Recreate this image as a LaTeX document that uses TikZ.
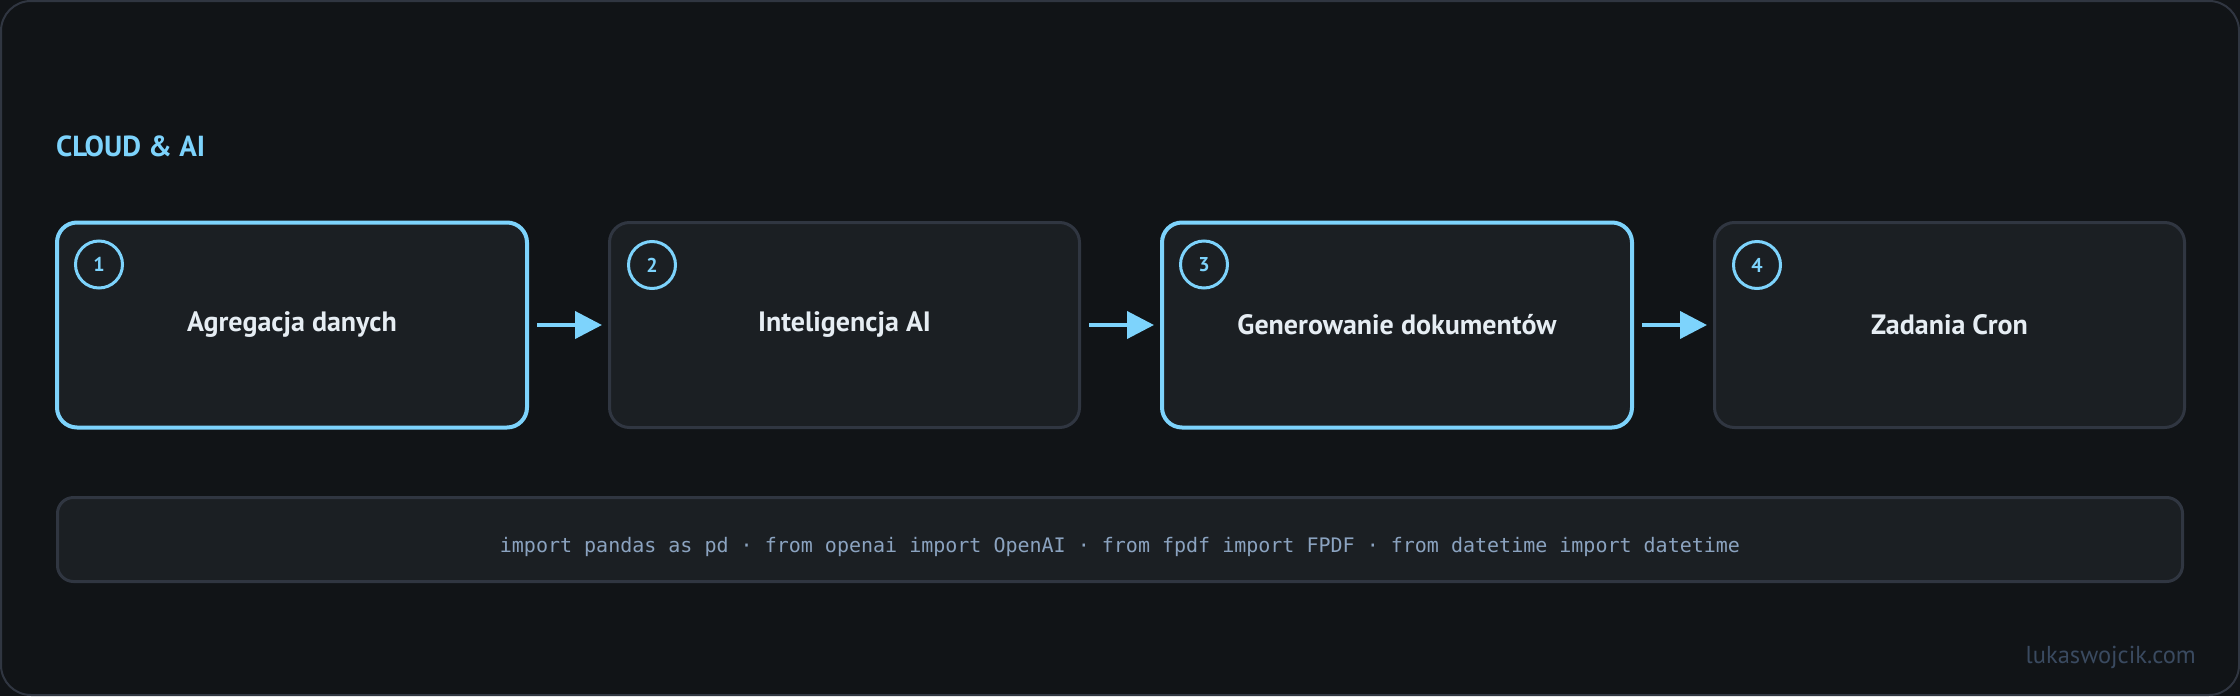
\documentclass[tikz,border=0pt]{standalone}
\usepackage{fontspec}
\setmainfont{PT Sans}
\setmonofont{DejaVu Sans Mono}
\usepackage{tikz}
\usetikzlibrary{positioning,calc,arrows.meta}
\definecolor{pagebg}{HTML}{111417}
\definecolor{boxfill}{HTML}{1B1F23}
\definecolor{edgegray}{HTML}{303641}
\definecolor{skyline}{HTML}{7DD3FC}
\definecolor{labeltext}{HTML}{E6EDF3}
\definecolor{codetext}{HTML}{8BA3C0}
\definecolor{sitetext}{HTML}{3A4A60}
\tikzstyle{stepbox} = [rectangle, draw=edgegray, fill=boxfill, line width=3pt,
    rounded corners=20pt, minimum width=470pt, minimum height=205pt,
    inner sep=0pt, text=labeltext, font=\fontsize{28}{33}\selectfont\bfseries]
\tikzstyle{activebox} = [stepbox, draw=skyline, line width=4pt]
\tikzstyle{numcircle} = [circle, draw=skyline, line width=3pt, minimum size=47pt,
    inner sep=0pt, text=skyline, font=\fontsize{20}{24}\selectfont\bfseries]
\tikzstyle{flowarrow} = [draw=skyline, line width=4pt,
    -{Triangle[length=27pt,width=27pt]}, shorten <=8pt, shorten >=6pt]

\begin{document}
\begin{tikzpicture}[x=1pt,y=-1pt]
    \fill[pagebg] (0,0) rectangle (2240,696);
    \draw[edgegray, line width=2pt, rounded corners=30pt] (1,1) rectangle (2239,695);
    \useasboundingbox (0,0) rectangle (2240,696);

    \node[anchor=base west, inner sep=0pt, text=skyline,
      font=\fontsize{29}{34}\selectfont\bfseries] (title) at (56,156) {CLOUD \& AI};

    \node[activebox] (s1) at (292,325) {Agregacja danych};
    \node[stepbox, right=79pt of s1] (s2) {Inteligencja AI};
    \node[activebox, right=79pt of s2] (s3) {Generowanie dokumentów};
    \node[stepbox, right=79pt of s3] (s4) {Zadania Cron};

    \node[numcircle] (n1) at ($(s1.north west)+(44,44)$) {1};
    \node[numcircle] (n2) at ($(s2.north west)+(44,44)$) {2};
    \node[numcircle] (n3) at ($(s3.north west)+(44,44)$) {3};
    \node[numcircle] (n4) at ($(s4.north west)+(44,44)$) {4};

    \draw[flowarrow] (s1) -- (s2);
    \draw[flowarrow] (s2) -- (s3);
    \draw[flowarrow] (s3) -- (s4);

    \node[rectangle, draw=edgegray, fill=boxfill, line width=3pt, rounded corners=16pt,
      minimum width=2125pt, minimum height=84pt, text=codetext,
      font=\fontsize{20}{24}\selectfont\ttfamily] (imports) at (1120,539.5)
      {\raisebox{-7pt}[\height][\depth]{import pandas as pd · from openai import OpenAI · from fpdf import FPDF · from datetime import datetime}};

    \node[anchor=base east, inner sep=0pt, text=sitetext,
      font=\fontsize{24.5}{29}\selectfont] (site) at (2196,663) {lukaswojcik.com};
\end{tikzpicture}
\end{document}
